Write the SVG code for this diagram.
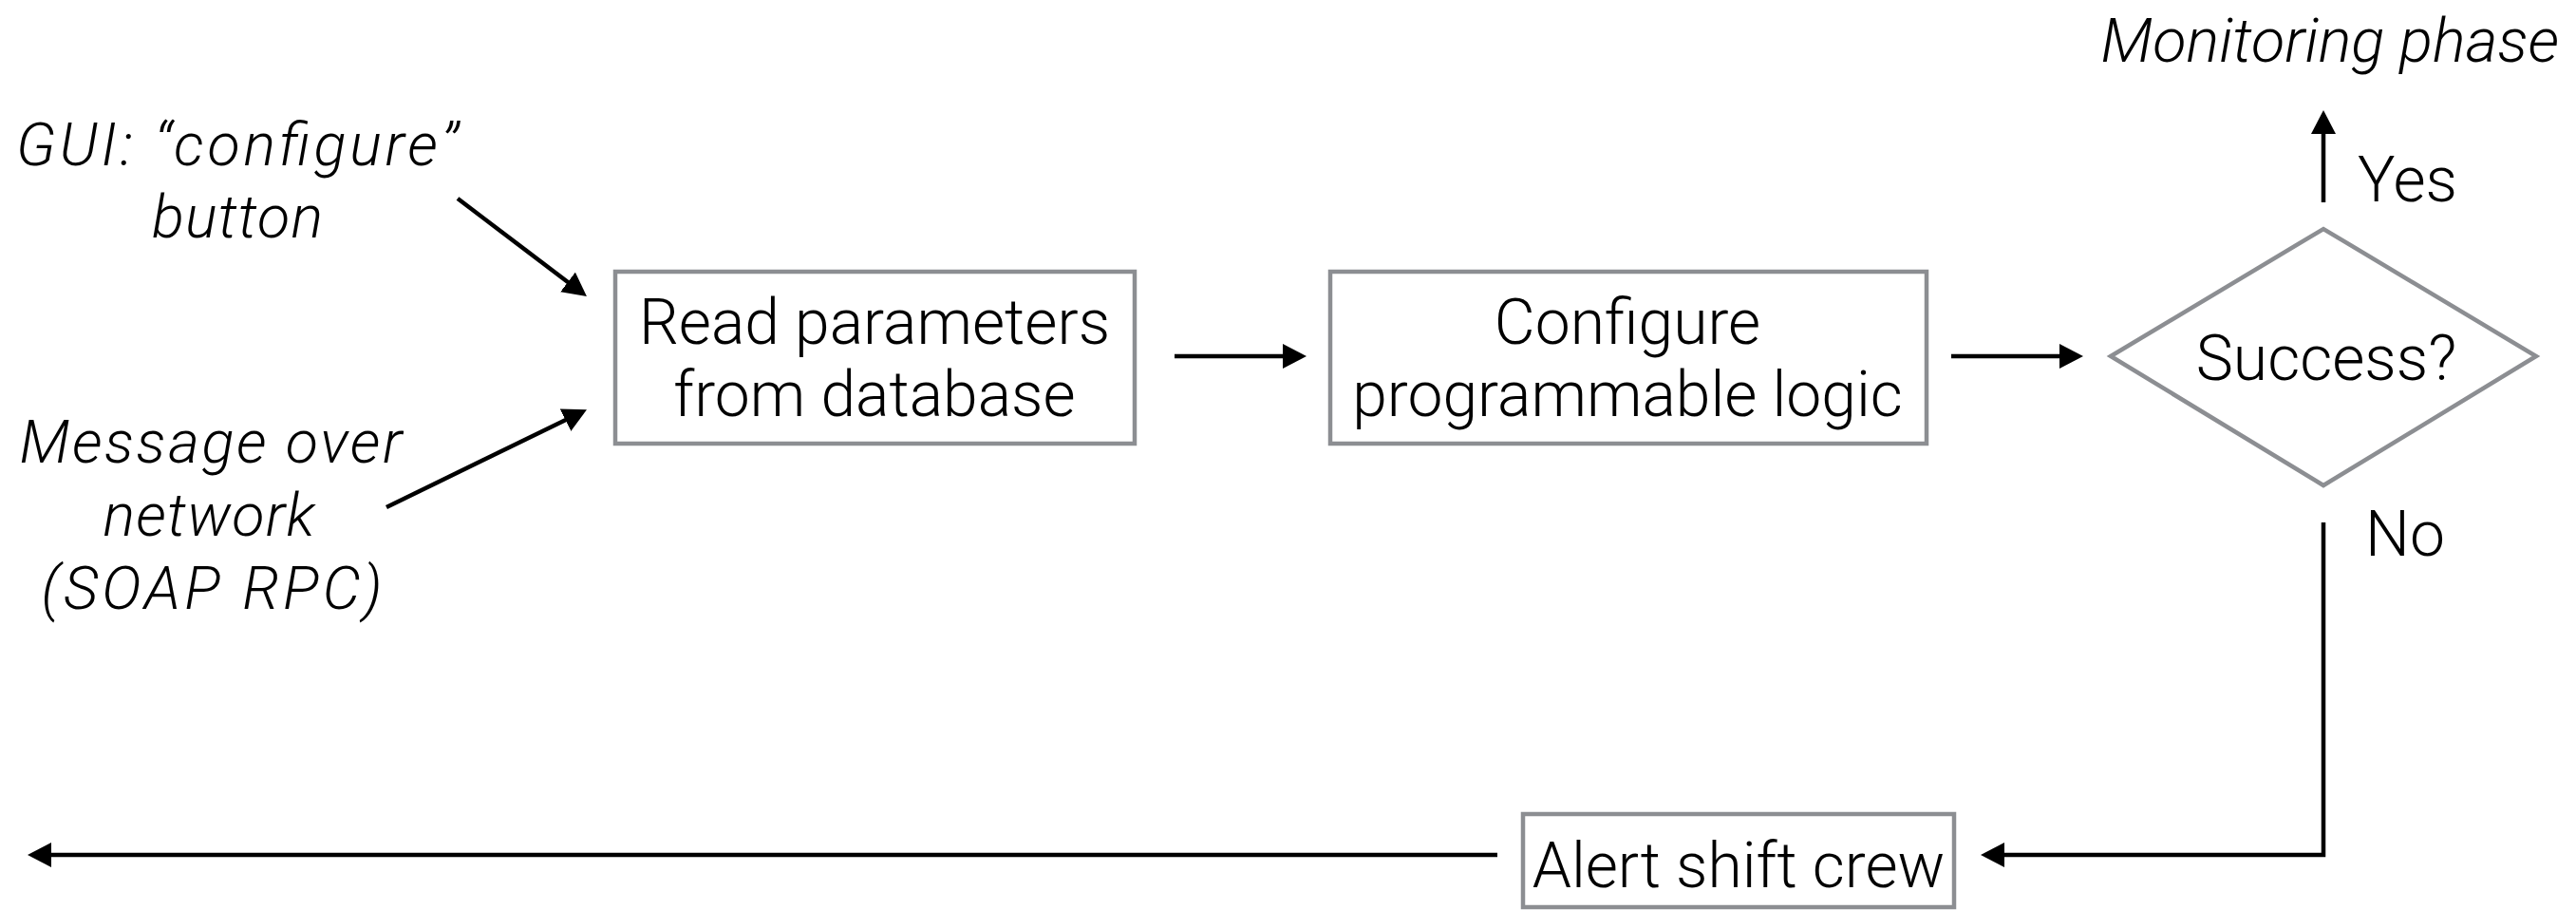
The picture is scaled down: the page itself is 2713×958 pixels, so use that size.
<svg xmlns="http://www.w3.org/2000/svg" width="2713" height="958" viewBox="0 0 2713 958">
<style>
.box{fill:#fff;stroke:#8c8e92;stroke-width:4.5}
.t{font-family:Roboto,"Liberation Sans",sans-serif;font-weight:300;font-size:66px;fill:#000;text-anchor:middle}
.i{font-family:Roboto,"Liberation Sans",sans-serif;font-weight:300;font-style:italic;font-size:63px;fill:#000;text-anchor:middle}
.c{fill:none;stroke:#000;stroke-width:4.5}
</style>
<defs>
<marker id="ah" markerUnits="userSpaceOnUse" markerWidth="26" markerHeight="26" refX="5" refY="13" orient="auto" viewBox="0 0 26 26">
<path d="M0,0 L25,13 L0,26 z" fill="#000"/>
</marker>
</defs>
<rect width="2713" height="958" fill="#fff"/>
<g id="connectors">
<line class="c" x1="482" y1="209" x2="602" y2="300" marker-end="url(#ah)"/>
<line class="c" x1="407" y1="534" x2="600" y2="440" marker-end="url(#ah)"/>
<line class="c" x1="1237" y1="375" x2="1356" y2="375" marker-end="url(#ah)"/>
<line class="c" x1="2055" y1="375" x2="2174" y2="375" marker-end="url(#ah)"/>
<line class="c" x1="2447" y1="213" x2="2447" y2="136" marker-end="url(#ah)"/>
<polyline class="c" points="2447,550 2447,900 2106,900" marker-end="url(#ah)"/>
<line class="c" x1="1577" y1="900" x2="49" y2="900" marker-end="url(#ah)"/>
</g>
<g id="gui-label">
<text class="i" x="250" y="174" textLength="466" lengthAdjust="spacing">GUI: “configure”</text>
<text class="i" x="250" y="250" textLength="180" lengthAdjust="spacing">button</text>
</g>
<g id="message-label">
<text class="i" x="222" y="487" textLength="403" lengthAdjust="spacing">Message over</text>
<text class="i" x="220" y="564" textLength="223" lengthAdjust="spacing">network</text>
<text class="i" x="223" y="641" textLength="359" lengthAdjust="spacing">(SOAP RPC)</text>
</g>
<g id="read-parameters">
<rect class="box" x="648" y="286" width="547" height="181"/>
<text class="t" x="921" y="362">Read parameters</text>
<text class="t" x="921" y="438">from database</text>
</g>
<g id="configure">
<rect class="box" x="1401" y="286" width="628" height="181"/>
<text class="t" x="1714" y="362">Configure</text>
<text class="t" x="1714" y="438">programmable logic</text>
</g>
<g id="success">
<polygon class="box" points="2223,375 2447,241 2671,375 2447,511"/>
<text class="t" x="2450" y="400">Success?</text>
</g>
<g id="monitoring">
<text class="i" x="2695" y="65" style="text-anchor:end;font-size:65px">Monitoring phase</text>
</g>
<g id="labels">
<text class="t" x="2483" y="212" style="text-anchor:start">Yes</text>
<text class="t" x="2491" y="585" style="text-anchor:start">No</text>
</g>
<g id="alert">
<rect class="box" x="1604" y="857" width="454" height="98"/>
<text class="t" x="1831" y="934">Alert shift crew</text>
</g>
</svg>
